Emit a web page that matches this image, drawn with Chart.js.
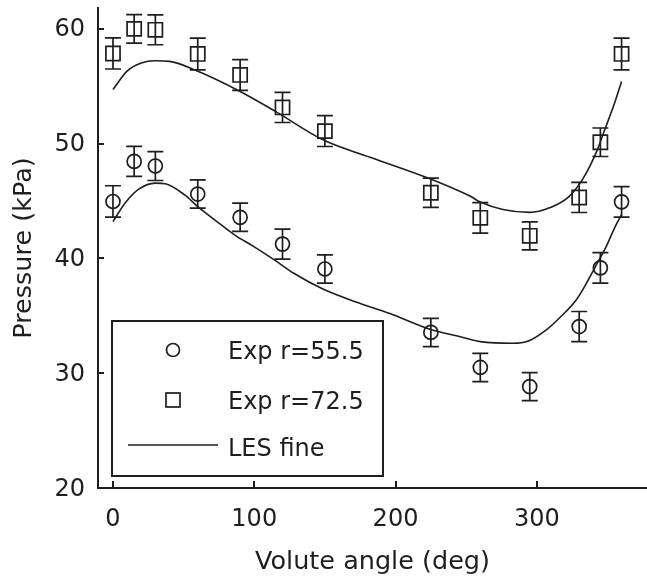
<!DOCTYPE html>
<html><head><meta charset="utf-8">
<script src="https://cdn.jsdelivr.net/npm/chart.js@4.4.0/dist/chart.umd.min.js"></script>
<style>html,body{margin:0;padding:0;background:#fff;}canvas{display:block;}</style>
</head><body>
<canvas id="c" width="647" height="579"></canvas>
<script>
// ---- data ----
const angles = [0, 15, 30, 60, 90, 120, 150, 225, 260, 295, 330, 345, 360];
const r55Values = [44.95, 48.44, 48.04, 45.6, 43.57, 41.24, 39.07, 33.55, 30.5, 28.83, 34.06, 39.17, 44.92];
const r55Err    = [1.37, 1.31, 1.26, 1.23, 1.23, 1.31, 1.23, 1.23, 1.23, 1.22, 1.31, 1.33, 1.33];
const r72Values = [57.84, 59.98, 59.9, 57.8, 55.97, 53.14, 51.08, 45.71, 43.53, 41.96, 45.3, 50.11, 57.8];
const r72Err    = [1.35, 1.24, 1.3, 1.38, 1.34, 1.31, 1.34, 1.28, 1.33, 1.22, 1.31, 1.24, 1.38];
const lesAngles55 = [0, 8.5, 18, 30, 37, 51, 60, 72, 86, 100, 115, 128, 149, 172, 196, 225, 243, 260, 283, 293, 307, 316, 328, 335, 342, 349, 356, 360];
const les55       = [43.2, 44.8, 46.0, 46.55, 46.5, 45.5, 44.5, 43.35, 42.05, 41.0, 39.8, 38.7, 37.3, 36.2, 35.2, 33.8, 33.25, 32.75, 32.6, 32.75, 33.8, 34.8, 36.4, 37.8, 39.4, 41.0, 42.9, 43.8];
const lesAngles72 = [0, 10, 20, 30, 40, 58, 89, 115, 149, 182, 227, 253, 260, 276, 295, 309, 323, 333, 342, 349, 355, 360];
const les72       = [54.7, 56.3, 57.0, 57.2, 57.15, 56.4, 54.6, 52.8, 50.3, 48.8, 46.8, 45.4, 44.9, 44.25, 44.0, 44.4, 45.4, 47.0, 49.2, 51.5, 53.5, 55.4];
const xTickValues = [0, 100, 200, 300];
const yTickValues = [20, 30, 40, 50, 60];
const legendLabels = ['Exp r=55.5', 'Exp r=72.5', 'LES fine'];
const xTitle = 'Volute angle (deg)';
const yTitle = 'Pressure (kPa)';

const INK = '#1e1e1e';
Chart.defaults.font.family = '"DejaVu Sans", sans-serif';
Chart.defaults.color = INK;

const toPts = (xs, ys) => xs.map((v, i) => ({x: v, y: ys[i]}));

const errorBars = {
  id: 'errorBars',
  afterDatasetsDraw(chart) {
    const {ctx, scales: {x, y}} = chart;
    ctx.save();
    ctx.strokeStyle = INK; ctx.lineWidth = 1.7;
    [[r55Values, r55Err], [r72Values, r72Err]].forEach(([vals, errs]) => {
      vals.forEach((v, i) => {
        const px = x.getPixelForValue(angles[i]);
        const top = y.getPixelForValue(v + errs[i]);
        const bot = y.getPixelForValue(v - errs[i]);
        ctx.beginPath();
        ctx.moveTo(px, top); ctx.lineTo(px, bot);
        ctx.moveTo(px - 8, top); ctx.lineTo(px + 8, top);
        ctx.moveTo(px - 8, bot); ctx.lineTo(px + 8, bot);
        ctx.stroke();
      });
    });
    ctx.restore();
  }
};

const innerTicks = {
  id: 'innerTicks',
  afterDraw(chart) {
    const {ctx, chartArea: a, scales: {x, y}} = chart;
    ctx.save();
    ctx.strokeStyle = INK; ctx.lineWidth = 2;
    ctx.beginPath();
    xTickValues.forEach(v => { const px = Math.round(x.getPixelForValue(v)); ctx.moveTo(px, a.bottom); ctx.lineTo(px, a.bottom - 7); });
    yTickValues.forEach(v => { const py = Math.round(y.getPixelForValue(v)); ctx.moveTo(a.left, py); ctx.lineTo(a.left + 6, py); });
    ctx.stroke();
    ctx.restore();
  }
};

const boxLegend = {
  id: 'boxLegend',
  afterDraw(chart) {
    const {ctx, chartArea: a} = chart;
    const L = a.left + 14, T = a.bottom - 167, W = 271, H = 155;
    ctx.save();
    ctx.fillStyle = '#fff'; ctx.fillRect(L, T, W, H);
    ctx.strokeStyle = INK; ctx.lineWidth = 2; ctx.strokeRect(L, T, W, H);
    ctx.lineWidth = 1.7;
    ctx.beginPath(); ctx.arc(L + 61, T + 29, 6.5, 0, Math.PI * 2); ctx.stroke();
    ctx.strokeRect(L + 54, T + 72, 14, 14);
    ctx.beginPath(); ctx.moveTo(L + 16, T + 124); ctx.lineTo(L + 106, T + 124); ctx.stroke();
    ctx.fillStyle = INK;
    ctx.font = '24px "DejaVu Sans"';
    ctx.textBaseline = 'middle'; ctx.textAlign = 'left';
    ctx.fillText(legendLabels[0], L + 116, T + 32);
    ctx.fillText(legendLabels[1], L + 116, T + 82);
    ctx.fillText(legendLabels[2], L + 116, T + 129);
    ctx.restore();
  }
};

new Chart(document.getElementById('c'), {
  type: 'scatter',
  data: {
    datasets: [
      {label: 'LES fine 55.5', data: toPts(lesAngles55, les55), showLine: true, pointRadius: 0,
       borderColor: INK, borderWidth: 1.6, cubicInterpolationMode: 'monotone', fill: false},
      {label: 'LES fine 72.5', data: toPts(lesAngles72, les72), showLine: true, pointRadius: 0,
       borderColor: INK, borderWidth: 1.6, cubicInterpolationMode: 'monotone', fill: false},
      {label: legendLabels[0], data: toPts(angles, r55Values), pointStyle: 'circle', pointRadius: 7,
       borderColor: INK, backgroundColor: 'rgba(0,0,0,0)', pointBorderWidth: 1.7},
      {label: legendLabels[1], data: toPts(angles, r72Values), pointStyle: 'rect', pointRadius: 10,
       borderColor: INK, backgroundColor: 'rgba(0,0,0,0)', pointBorderWidth: 1.7}
    ]
  },
  options: {
    responsive: false, animation: false, devicePixelRatio: 1, events: [],
    layout: {autoPadding: false, padding: {top: 8, right: 0, left: 0, bottom: 0}},
    plugins: {legend: {display: false}, tooltip: {enabled: false}},
    scales: {
      x: {
        type: 'linear', min: -10.6, max: 378,
        afterBuildTicks: s => { s.ticks = xTickValues.map(v => ({value: v})); },
        afterFit: s => { s.height = 91; s.paddingLeft = 0; s.paddingRight = 0; },
        grid: {display: false, drawTicks: false},
        border: {display: true, color: INK, width: 2},
        ticks: {padding: 17, color: INK, font: {size: 24}, maxRotation: 0, autoSkip: false},
        title: {display: true, text: xTitle, color: INK, font: {size: 25.5}, padding: {top: 0, bottom: 1}}
      },
      y: {
        type: 'linear', min: 20, max: 61.8,
        afterBuildTicks: s => { s.ticks = yTickValues.map(v => ({value: v})); },
        afterFit: s => { s.width = 98; s.paddingTop = 0; s.paddingBottom = 0; },
        grid: {display: false, drawTicks: false},
        border: {display: true, color: INK, width: 2},
        ticks: {padding: 13, labelOffset: 1.5, color: INK, font: {size: 24}, autoSkip: false},
        title: {display: true, text: yTitle, color: INK, font: {size: 25.5}, padding: {top: 9, bottom: 0}}
      }
    }
  },
  plugins: [errorBars, innerTicks, boxLegend]
});
</script>
</body></html>
